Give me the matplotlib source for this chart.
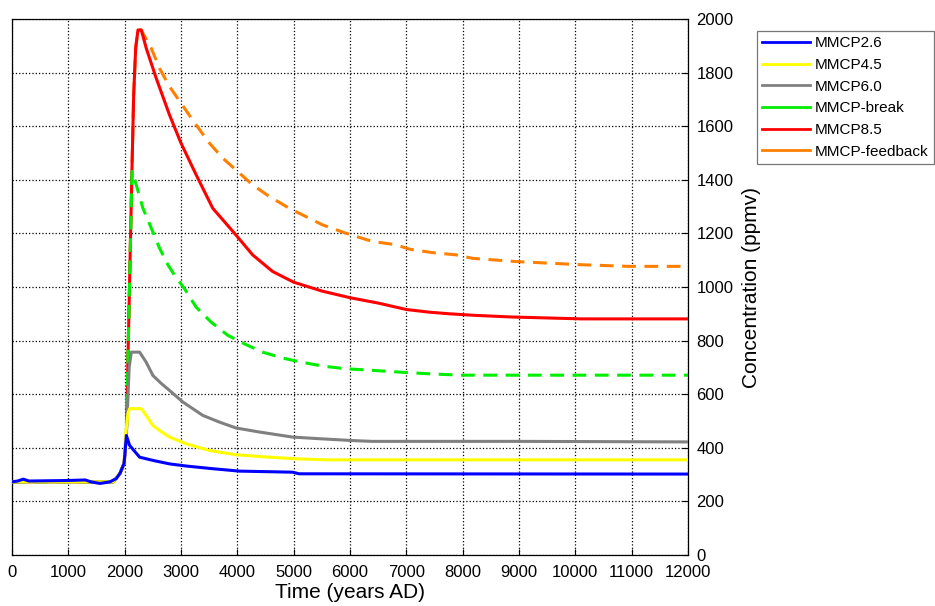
import matplotlib.pyplot as plt
from matplotlib.lines import Line2D

plt.rcParams['font.family'] = ['Liberation Sans', 'DejaVu Sans']

# MMCP2.6
yr_26 = [0, 100, 200, 300, 1000, 1300, 1400, 1563, 1740, 1850, 1918, 1990, 2030, 2088,
         2265, 2501, 2796, 3091, 3563, 4035, 4979, 5097, 12000]
c_26 = [273, 276, 283, 276, 278, 280, 273, 267, 273, 285, 305, 342, 446, 409,
        365, 353, 340, 332, 322, 313, 309, 303, 302]

# MMCP4.5
yr_45 = [0, 1800, 1918, 1990, 2010, 2060, 2088, 2295, 2400, 2501, 2650, 2796, 3091,
         3504, 3976, 4566, 5038, 5569, 12000]
c_45 = [273, 273, 305, 342, 434, 530, 546, 546, 515, 483, 460, 440, 415, 390, 374,
        365, 359, 355, 355]

# MMCP6.0
yr_60 = [0, 1800, 1918, 1990, 2030, 2080, 2118, 2265, 2380, 2501, 2650, 2796, 3032,
         3386, 3681, 3976, 4389, 4979, 5451, 6041, 6395, 9000, 12000]
c_60 = [273, 273, 305, 342, 446, 700, 757, 757, 720, 670, 640, 614, 571, 521, 496,
        474, 459, 440, 434, 427, 424, 424, 422]

# MMCP-break
yr_br = [0, 1800, 1918, 1990, 2030, 2090, 2130, 2206, 2324, 2472, 2619, 2767, 2885,
         3062, 3268, 3534, 3829, 4124, 4448, 4802, 5127, 5510, 5923, 6395, 6838, 7500,
         8000, 12000]
c_br = [273, 273, 305, 342, 446, 1046, 1431, 1381, 1294, 1220, 1145, 1083, 1044,
        994, 925, 869, 820, 788, 757, 735, 720, 705, 695, 689, 683, 675, 671, 671]

# MMCP8.5
yr_85 = [0, 1800, 1918, 1990, 2030, 2090, 2130, 2160, 2195, 2236, 2295, 2383, 2560,
         2796, 3000, 3268, 3563, 3947, 4271, 4625, 5000, 5500, 6000, 6500, 7000, 7412,
         7765, 8235, 8882, 10118, 12000]
c_85 = [273, 273, 305, 342, 446, 1046, 1443, 1717, 1891, 1959, 1959, 1891, 1779,
        1642, 1537, 1419, 1294, 1201, 1120, 1058, 1018, 985, 960, 940, 916, 906,
        900, 894, 888, 881, 881]

# MMCP-feedback
yr_fb = [0, 1800, 1918, 1990, 2030, 2090, 2130, 2160, 2195, 2236, 2295, 2324, 2472,
         2619, 2796, 3062, 3268, 3504, 3740, 4006, 4271, 4566, 4920, 5215, 5510, 5923,
         6395, 6808, 7059, 7471, 7882, 8176, 8941, 10118, 10941, 12000]
c_fb = [273, 273, 305, 342, 446, 1046, 1443, 1717, 1891, 1959, 1959, 1947, 1891,
        1816, 1748, 1667, 1605, 1537, 1481, 1431, 1381, 1338, 1294, 1263, 1232, 1201,
        1170, 1158, 1141, 1128, 1120, 1107, 1095, 1083, 1077, 1077]

fig = plt.figure(figsize=(9.35, 6.06), dpi=100)
ax = fig.add_axes([12 / 935, 51 / 606, 676 / 935, 536 / 606])

lw = 2.2
dash = (4.5, 2.8)
ax.plot(yr_fb, c_fb, color='#ff8000', lw=lw, dashes=dash, label='MMCP-feedback', zorder=2)
ax.plot(yr_85, c_85, color='#ff0000', lw=lw, label='MMCP8.5', zorder=3)
ax.plot(yr_br, c_br, color='#00ee00', lw=lw, dashes=dash, label='MMCP-break', zorder=4)
ax.plot(yr_60, c_60, color='#808080', lw=lw, label='MMCP6.0', zorder=5)
ax.plot(yr_45, c_45, color='#ffff00', lw=lw, label='MMCP4.5', zorder=6)
ax.plot(yr_26, c_26, color='#0000ff', lw=lw, label='MMCP2.6', zorder=7)

ax.set_xlim(0, 12000)
ax.set_ylim(0, 2000)
ax.set_xticks(range(0, 12001, 1000))
ax.set_yticks(range(0, 2001, 200))
ax.yaxis.tick_right()
ax.yaxis.set_label_position('right')
ax.tick_params(labelsize=12, direction='in', length=4)
ax.tick_params(axis='x', pad=7)
ax.tick_params(axis='y', pad=6)
ax.grid(True, color='black', linestyle=':', linewidth=0.9)
ax.set_xlabel('Time (years AD)', fontsize=15, labelpad=2)
ax.set_ylabel('Concentration (ppmv)', fontsize=15, labelpad=6)
for s in ax.spines.values():
    s.set_linewidth(0.9)

# legend in MATLAB order, solid line samples
order = ['MMCP2.6', 'MMCP4.5', 'MMCP6.0', 'MMCP-break', 'MMCP8.5', 'MMCP-feedback']
hmap = {l.get_label(): l for l in ax.get_lines()}
leg_handles = [Line2D([], [], color=hmap[n].get_color(), lw=2) for n in order]
leg = fig.legend(leg_handles, order, loc='upper left',
                 bbox_to_anchor=(757 / 935, 1 - 31 / 606), borderaxespad=0,
                 fontsize=11, frameon=True, fancybox=False, edgecolor='#555555',
                 handlelength=3.1, labelspacing=0.5, borderpad=0.35,
                 handletextpad=0.35)
leg.get_frame().set_linewidth(0.9)

fig.savefig('out.png', dpi=100)
